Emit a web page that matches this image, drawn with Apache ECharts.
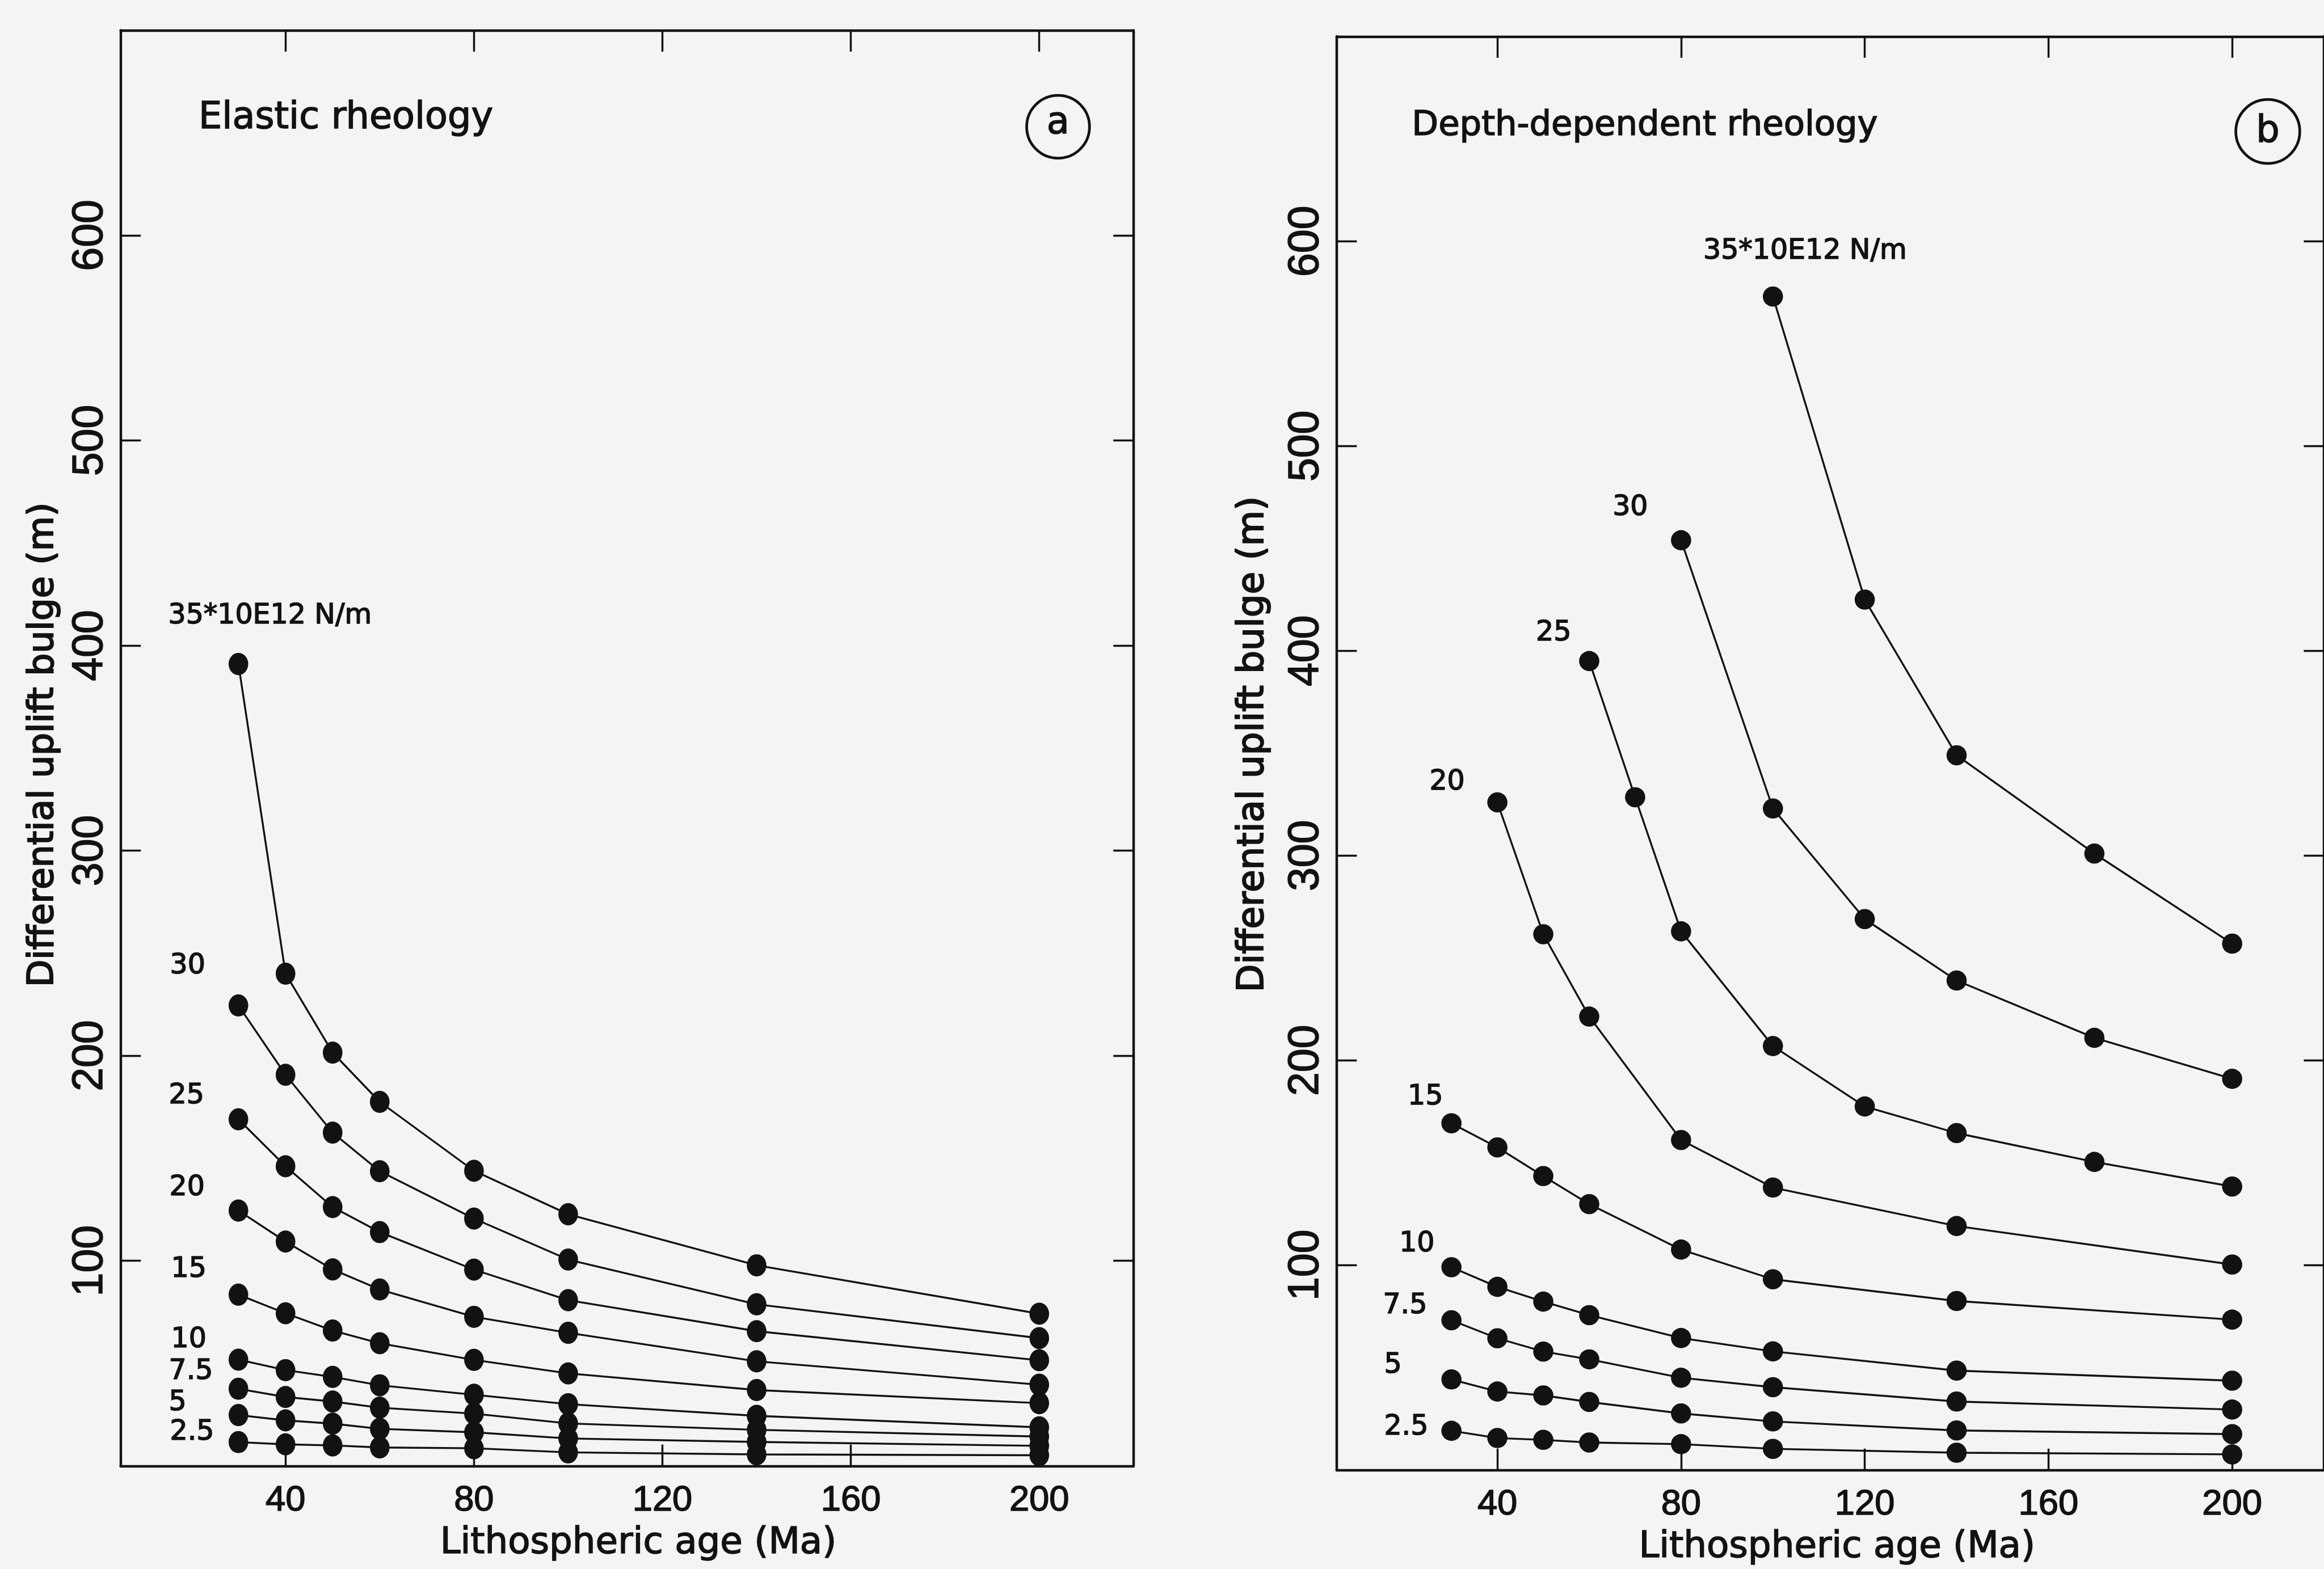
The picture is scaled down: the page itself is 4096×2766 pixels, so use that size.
<!DOCTYPE html>
<html>
<head>
<meta charset="utf-8">
<script src="https://cdn.jsdelivr.net/npm/echarts@6/dist/echarts.min.js"></script>
<style>
html,body{margin:0;padding:0;background:#f4f4f4;}
#chart{width:4096px;height:2766px;}
</style>
</head>
<body>
<div id="chart"></div>
<script>
// ---------------- DATA ----------------
const forceLabels = ['35*10E12 N/m', '30', '25', '20', '15', '10', '7.5', '5', '2.5'];
const ageTicks = [40, 80, 120, 160, 200];
const bulgeTicks = [100, 200, 300, 400, 500, 600];

// Panel a: elastic rheology
const agesA = [30, 40, 50, 60, 80, 100, 140, 200];
const elastic35 = [391, 240, 201.5, 177.5, 143.9, 122.7, 97.8, 74.2];
const elastic30 = [224.5, 190.7, 162.5, 143.7, 120.6, 100.6, 78.8, 62.3];
const elastic25 = [169, 146.1, 126.2, 114, 95.7, 80.8, 65.7, 51.5];
const elastic20 = [124.5, 109.4, 95.8, 86, 72.7, 64.9, 51, 39.6];
const elastic15 = [83.5, 74.4, 66, 59.8, 51.7, 45.1, 37, 30.6];
const elastic10 = [51.8, 46.7, 43.4, 39.3, 34.7, 30.1, 24.4, 18.8];
const elastic7_5 = [37.6, 33.6, 31.4, 28.4, 25.5, 20.7, 17.6, 14.3];
const elastic5 = [24.8, 22.2, 20.6, 18.1, 16.4, 13.4, 11.7, 9.8];
const elastic2_5 = [11.6, 10.5, 10, 9, 8.6, 6.6, 5.6, 5.2];

// Panel b: depth-dependent rheology
const agesB35 = [100, 120, 140, 170, 200];
const depth35 = [573, 425, 349, 301, 257];
const agesB30 = [80, 100, 120, 140, 170, 200];
const depth30 = [454, 323, 269, 239, 211, 191];
const agesB25 = [60, 70, 80, 100, 120, 140, 170, 200];
const depth25 = [395, 328.5, 263, 207, 177.5, 164.5, 150.4, 138.4];
const agesB20 = [40, 50, 60, 80, 100, 140, 200];
const depth20 = [326, 261.6, 221.4, 161.1, 137.9, 119.1, 100.3];
const agesBLow = [30, 40, 50, 60, 80, 100, 140, 200];
const depth15 = [169.3, 157.5, 143.5, 129.8, 107.6, 93.1, 82.5, 73.4];
const depth10 = [99, 89.4, 82.2, 75.6, 64.4, 57.9, 48.5, 43.6];
const depth7_5 = [73.1, 64.3, 57.8, 54, 45, 40.4, 33.4, 29.5];
const depth5 = [44.2, 38.3, 36.4, 33.2, 27.6, 23.7, 19.3, 17.5];
const depth2_5 = [19.1, 15.6, 14.7, 13.4, 12.6, 10.3, 8.4, 7.6];

// ---------------- STYLE / LAYOUT ----------------
const S = 0.989;
const INK = '#121212';
const labelFont = 'DejaVu Sans';
const thick = { textBorderColor: INK, textBorderWidth: 1.6 * S };

// label offsets (reference px) from first point to label left / middle
const offsetsA = [[-125, -85], [-122, -70], [-124, -41], [-123, -40], [-120, -45], [-120, -35], [-124, -30], [-124, -22], [-122, -17]];
const offsetsB = [[-124, -80], [-122, -58], [-95, -50], [-121, -36], [-78, -46], [-93, -41], [-122, -25], [-120, -25], [-120, -6]];
const dotA = [35 * S, 39.5 * S];
const dotB = [36 * S, 36 * S];

const panelA = [
  [agesA, elastic35], [agesA, elastic30], [agesA, elastic25], [agesA, elastic20], [agesA, elastic15],
  [agesA, elastic10], [agesA, elastic7_5], [agesA, elastic5], [agesA, elastic2_5]
];
const panelB = [
  [agesB35, depth35], [agesB30, depth30], [agesB25, depth25], [agesB20, depth20], [agesBLow, depth15],
  [agesBLow, depth10], [agesBLow, depth7_5], [agesBLow, depth5], [agesBLow, depth2_5]
];

function buildSeries(panel, offsets, axisIdx, tag, dot) {
  return panel.map(([xs, ys], k) => {
    const data = xs.map((x, i) => [x, ys[i]]);
    data[0] = {
      value: data[0],
      label: Object.assign({
        show: true,
        formatter: forceLabels[k],
        position: 'inside',
        offset: [offsets[k][0] * S, offsets[k][1] * S],
        align: 'left',
        verticalAlign: 'middle',
        color: INK,
        fontFamily: labelFont,
        fontSize: 49.5 * S
      }, thick)
    };
    return {
      name: tag + forceLabels[k],
      type: 'line',
      xAxisIndex: axisIdx,
      yAxisIndex: axisIdx,
      data: data,
      symbol: 'circle',
      symbolSize: dot,
      showAllSymbol: true,
      itemStyle: { color: INK, borderWidth: 0 },
      lineStyle: { color: INK, width: 3.4 * S },
      emphasis: { disabled: true },
      silent: true,
      z: 3
    };
  });
}

function xAxisBottom(gridIndex, namePad) {
  return {
    type: 'value', gridIndex, position: 'bottom', min: 5, max: 220,
    axisLine: { show: true, onZero: false, lineStyle: { color: INK, width: 4.5 * S } },
    axisTick: { show: true, inside: true, length: 38 * S, customValues: ageTicks, lineStyle: { color: INK, width: 3.5 * S } },
    axisLabel: Object.assign({ show: true, customValues: ageTicks, margin: 30 * S, color: INK, fontFamily: 'Liberation Sans', fontSize: 64 * S }, thick),
    splitLine: { show: false },
    name: 'Lithospheric age (Ma)', nameLocation: 'middle', nameGap: 106 * S,
    nameTextStyle: Object.assign({ color: INK, fontFamily: labelFont, fontSize: 65 * S, padding: [0, 0, 0, namePad * S] }, thick)
  };
}
function xAxisTop(gridIndex) {
  return {
    type: 'value', gridIndex, position: 'top', min: 5, max: 220,
    axisLine: { show: true, onZero: false, lineStyle: { color: INK, width: 4.5 * S } },
    axisTick: { show: true, inside: true, length: 38 * S, customValues: ageTicks, lineStyle: { color: INK, width: 3.5 * S } },
    axisLabel: { show: false },
    splitLine: { show: false }
  };
}
function yAxisLeft(gridIndex, nameGap, namePad, nameSize) {
  return {
    type: 'value', gridIndex, position: 'left', min: 0, max: 700,
    axisLine: { show: true, onZero: false, lineStyle: { color: INK, width: 4.5 * S } },
    axisTick: { show: true, inside: true, length: 36 * S, customValues: bulgeTicks, lineStyle: { color: INK, width: 3.5 * S } },
    axisLabel: Object.assign({ show: true, customValues: bulgeTicks, rotate: 90, margin: 16 * S, color: INK,
      fontFamily: '"Liberation Sans Narrow", "Arial Narrow", "Liberation Sans"', fontSize: 76 * S }, thick),
    splitLine: { show: false },
    name: 'Differential uplift bulge (m)', nameLocation: 'middle', nameGap: nameGap * S, nameRotate: 90,
    nameTextStyle: { color: INK, fontFamily: labelFont, fontSize: nameSize * S, padding: [0, 0, 0, namePad * S],
      textBorderColor: INK, textBorderWidth: 2.2 * S }
  };
}
function yAxisRight(gridIndex) {
  return {
    type: 'value', gridIndex, position: 'right', min: 0, max: 700,
    axisLine: { show: true, onZero: false, lineStyle: { color: INK, width: 4.5 * S } },
    axisTick: { show: true, inside: true, length: 36 * S, customValues: bulgeTicks, lineStyle: { color: INK, width: 3.5 * S } },
    axisLabel: { show: false },
    splitLine: { show: false }
  };
}

function titleStyle(size) {
  return Object.assign({ color: INK, fontFamily: labelFont, fontSize: size * S, fontWeight: 'normal' }, thick);
}

const option = {
  animation: false,
  backgroundColor: '#f4f4f4',
  title: [
    { text: 'Elastic rheology', left: 354 * S, top: 178 * S, padding: 0, textStyle: titleStyle(66) },
    { text: 'Depth-dependent rheology', left: 2516 * S, top: 194 * S, padding: 0, textStyle: titleStyle(61.5) }
  ],
  grid: [
    { left: 215 * S, top: 54 * S, width: 1805 * S, height: 2559 * S, containLabel: false },
    { left: 2382 * S, top: 65 * S, width: 1805 * S, height: 2562 * S, containLabel: false }
  ],
  xAxis: [xAxisBottom(0, 40), xAxisTop(0), xAxisBottom(1, 24), xAxisTop(1)],
  yAxis: [yAxisLeft(0, 106, 12, 63.5), yAxisRight(0), yAxisLeft(1, 116, 32, 65), yAxisRight(1)],
  graphic: [
    { type: 'circle', shape: { cx: 1885.6 * S, cy: 226 * S, r: 56 * S }, style: { fill: 'none', stroke: INK, lineWidth: 4.8 * S } },
    { type: 'text', x: 1885.6 * S, y: 220 * S, style: { text: 'a', fill: INK, stroke: INK, lineWidth: 1.6 * S, font: (66 * S) + 'px "DejaVu Sans"', textAlign: 'center', textVerticalAlign: 'middle' } },
    { type: 'circle', shape: { cx: 4041.4 * S, cy: 234.4 * S, r: 57 * S }, style: { fill: 'none', stroke: INK, lineWidth: 4.8 * S } },
    { type: 'text', x: 4041.4 * S, y: 236 * S, style: { text: 'b', fill: INK, stroke: INK, lineWidth: 1.6 * S, font: (66 * S) + 'px "DejaVu Sans"', textAlign: 'center', textVerticalAlign: 'middle' } }
  ],
  series: [].concat(
    buildSeries(panelA, offsetsA, 0, 'a', dotA),
    buildSeries(panelB, offsetsB, 2, 'b', dotB)
  )
};

const chart = echarts.init(document.getElementById('chart'), null, { renderer: 'canvas' });
chart.setOption(option);
</script>
</body>
</html>
